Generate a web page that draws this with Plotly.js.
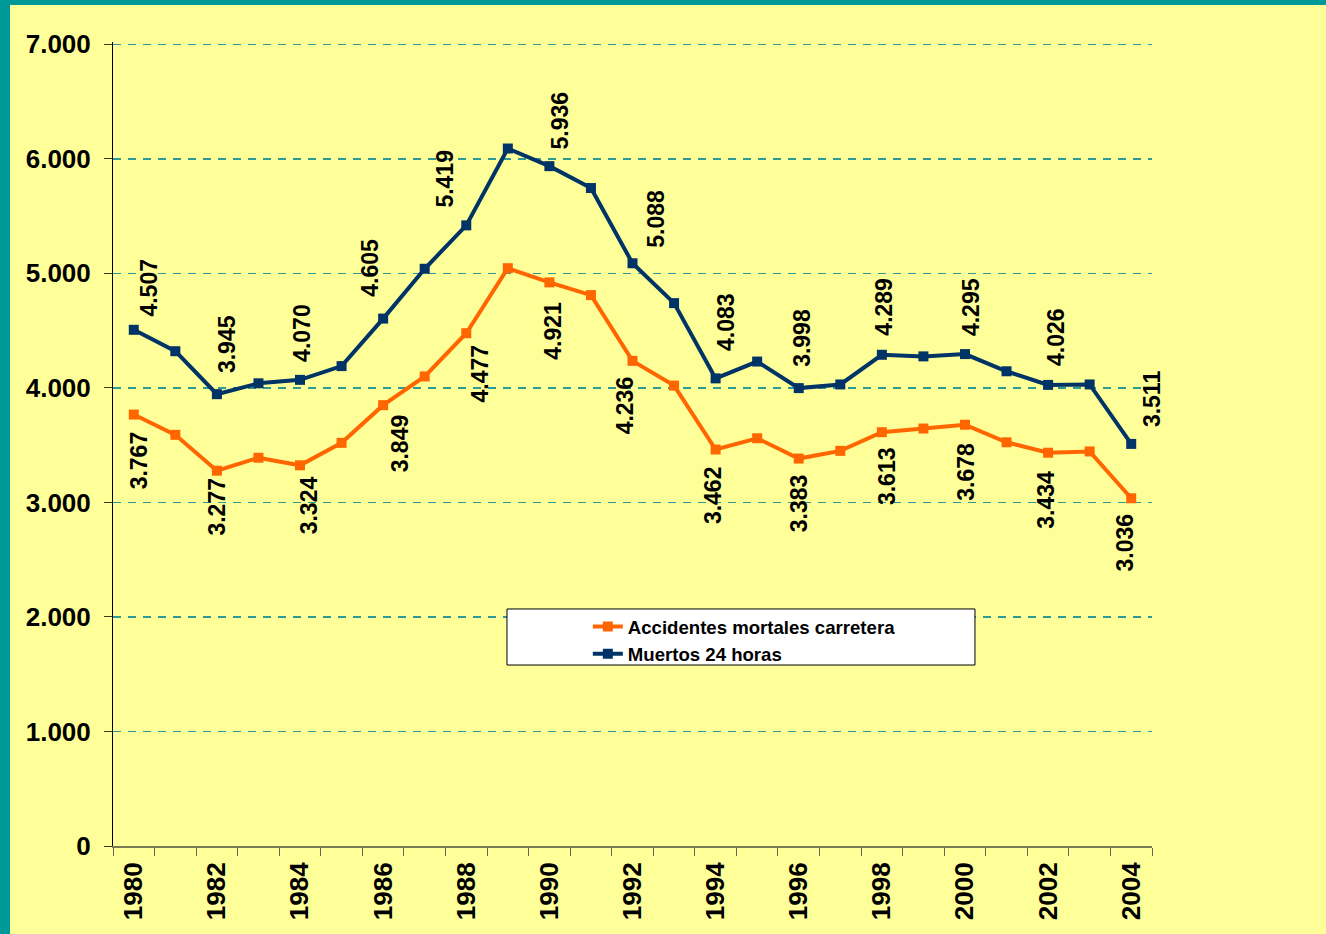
<!DOCTYPE html>
<html><head><meta charset="utf-8">
<script src="https://cdn.plot.ly/plotly-3.0.1.min.js"></script>
<style>
html,body{margin:0;padding:0;background:#009999;width:1326px;height:934px;overflow:hidden}
#chart{position:absolute;left:10px;top:5px;width:1316px;height:929px}
</style>
</head><body><div id="chart"></div>
<script>
const years = ['1980','1981','1982','1983','1984','1985','1986','1987','1988','1989','1990','1991','1992','1993','1994','1995','1996','1997','1998','1999','2000','2001','2002','2003','2004'];
const accidentes = [3767,3590,3277,3390,3324,3520,3849,4100,4477,5045,4921,4810,4236,4020,3462,3560,3383,3450,3613,3645,3678,3525,3434,3445,3036];
const muertos = [4507,4320,3945,4040,4070,4190,4605,5040,5419,6090,5936,5745,5088,4740,4083,4230,3998,4030,4289,4275,4295,4145,4026,4030,3511];
const seriesNames = ['Accidentes mortales carretera','Muertos 24 horas'];
const yTicks = [0,1000,2000,3000,4000,5000,6000,7000];

// label nudges (pixels) for the hand-placed data labels (even years)
const navyDx = [15,10,2,-14,-21,11,24,11,3,2,6,8,21];
const navyDy = [14,22,19,23,19,18,16,28,22,20,19,20,18];
const orangeDx = [5,0,9,17,14,4,-8,-3,0,5,1,-2,-6];
const orangeDy = [18,8,12,10,12,20,17,18,17,16,19,19,16];

function fmt(v){ return v >= 1000 ? Math.floor(v/1000) + '.' + String(v%1000).padStart(3,'0') : String(v); }

const ORANGE = '#FF6600', NAVY = '#003366';
const FONT = 'Liberation Sans, Arial, sans-serif';

const traces = [
  {x: years, y: accidentes, name: seriesNames[0], type: 'scatter', mode: 'lines+markers',
   line: {color: ORANGE, width: 4}, marker: {symbol: 'square', size: 10, color: ORANGE}},
  {x: years, y: muertos, name: seriesNames[1], type: 'scatter', mode: 'lines+markers',
   line: {color: NAVY, width: 4}, marker: {symbol: 'square', size: 10, color: NAVY}}
];

const annotations = [];
let k = 0;
for (let i = 0; i < years.length; i += 2) {
  annotations.push({x: i, y: muertos[i], xref: 'x', yref: 'y', text: fmt(muertos[i]),
    showarrow: false, textangle: -90, xanchor: 'center', yanchor: 'bottom',
    xshift: navyDx[k], yshift: navyDy[k] - 2, borderpad: 0,
    font: {family: FONT, size: 23, color: '#000000', weight: 'bold'}});
  annotations.push({x: i, y: accidentes[i], xref: 'x', yref: 'y', text: fmt(accidentes[i]),
    showarrow: false, textangle: -90, xanchor: 'center', yanchor: 'top',
    xshift: orangeDx[k], yshift: -orangeDy[k] + 2, borderpad: 0,
    font: {family: FONT, size: 23, color: '#000000', weight: 'bold'}});
  k++;
}

const layout = {
  width: 1316, height: 929,
  margin: {l: 103, r: 174, t: 37, b: 88},
  paper_bgcolor: '#FFFF99', plot_bgcolor: '#FFFF99',
  separators: ',.',
  font: {family: FONT, color: '#000'},
  showlegend: true,
  legend: {x: 0.457, y: 0.2962, xanchor: 'left', yanchor: 'top', bgcolor: 'rgba(0,0,0,0)',
    borderwidth: 0, font: {family: FONT, size: 18.6, color: '#000', weight: 'bold'}},
  xaxis: {type: 'category', range: [-0.5, 24.5], tickvals: years,
    ticktext: years.map((y, i) => i % 2 === 0 ? y : ''),
    tickson: 'boundaries', ticks: 'outside', ticklen: 8, tickcolor: '#666655', tickwidth: 1,
    tickangle: -90, tickfont: {family: FONT, size: 26, color: '#000', weight: 'bold'},
    ticklabelstandoff: 4,
    showline: true, linecolor: '#7a7a55', linewidth: 2, showgrid: false, zeroline: false, fixedrange: true},
  yaxis: {range: [0, 7020], tickvals: yTicks, tickformat: ',d', ticks: 'outside', ticklen: 8,
    tickcolor: '#443322', tickfont: {family: FONT, size: 26, color: '#000', weight: 'bold'},
    ticklabelstandoff: 8,
    showline: true, linecolor: '#000', linewidth: 1, showgrid: true, gridcolor: '#2e9a96',
    gridwidth: 1.5, griddash: '8px,7px', zeroline: false, fixedrange: true},
  shapes: [{type: 'rect', xref: 'paper', yref: 'paper', x0: 0.3792, x1: 0.8296, y0: 0.2251, y1: 0.2948,
    fillcolor: '#FFFFFF', line: {color: '#000', width: 1}, layer: 'above'}],
  annotations: annotations
};

Plotly.newPlot('chart', traces, layout, {displayModeBar: false, staticPlot: true});
</script>
</body></html>
